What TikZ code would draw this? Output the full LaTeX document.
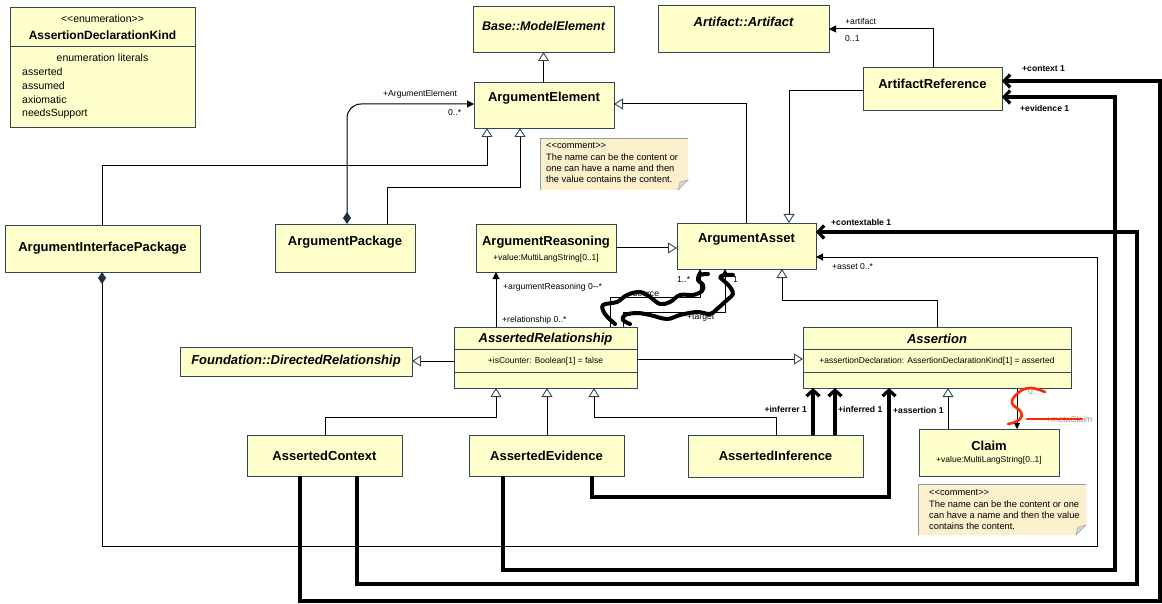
\documentclass[tikz,border=0pt]{standalone}
\usepackage{fontspec}
\setmainfont{Liberation Sans}
\usetikzlibrary{arrows.meta}
\definecolor{boxfill}{HTML}{FFFFCC}
\definecolor{boxdraw}{HTML}{2F4858}
\definecolor{cmtfill}{HTML}{FCEFCC}
\definecolor{cmtline}{HTML}{8C9BAB}
\definecolor{dmd}{HTML}{1E3442}
\definecolor{redmark}{HTML}{FF2A00}
\begin{document}
\begin{tikzpicture}[x=1pt,y=-1pt,
  cls/.style={draw=boxdraw, fill=boxfill, line width=0.9pt, inner sep=0pt, outer sep=0pt, anchor=north west},
  divline/.style={draw=boxdraw, line width=0.9pt},
  ttl/.style={font=\fontsize{13}{15}\selectfont\bfseries, inner sep=0pt},
  ittl/.style={font=\fontsize{13}{15}\selectfont\bfseries\itshape, inner sep=0pt},
  attr/.style={font=\fontsize{8.5}{10}\selectfont, inner sep=0pt},
  lbl/.style={font=\fontsize{8.6}{10}\selectfont, inner sep=0pt, anchor=west},
  blbl/.style={font=\fontsize{8.6}{10}\selectfont\bfseries, inner sep=0pt, anchor=west},
  cmt/.style={font=\fontsize{9.3}{11}\selectfont, inner sep=0pt, anchor=west},
  enumtxt/.style={font=\fontsize{10.5}{12}\selectfont, inner sep=0pt},
  gen/.style={line width=1pt, -{Triangle[length=9pt,width=11pt,color=boxdraw,fill=white,line width=0.9pt]}},
  assoc/.style={line width=1pt, -{Triangle[length=7pt,width=7pt]}},
  smallassoc/.style={line width=1pt, -{Triangle[length=6pt,width=6pt]}},
  compo/.style={line width=1pt, {Diamond[length=12pt,width=8pt,color=dmd]}-{Triangle[length=7pt,width=7pt]}},
  thk/.style={line width=3.2pt, -{Straight Barb[length=6pt,width=13pt]}},
  wave/.style={line width=4pt, line cap=round, line join=round},
  redwave/.style={draw=redmark, line width=2.6pt, line cap=round, line join=round}
]
\useasboundingbox (0,0) rectangle (1162,604);
\fill[white] (0,0) rectangle (1162,604);

% ---------- classes ----------
\node[cls, minimum width=185, minimum height=120] (enum) at (10,7) {};
\node[cls, minimum width=141, minimum height=46] (base) at (473,6) {};
\node[cls, minimum width=140, minimum height=46] (ae) at (474,82) {};
\node[cls, minimum width=171, minimum height=47] (art) at (658,5) {};
\node[cls, minimum width=139, minimum height=43] (aref) at (863,67) {};
\node[cls, minimum width=195, minimum height=47] (aip) at (5,225) {};
\node[cls, minimum width=140, minimum height=48] (ap) at (275,224) {};
\node[cls, minimum width=140, minimum height=48] (ar) at (476,224) {};
\node[cls, minimum width=139, minimum height=46] (aa) at (677,223) {};
\node[cls, minimum width=183, minimum height=61] (arel) at (454,327) {};
\node[cls, minimum width=232, minimum height=29] (fdr) at (180,347) {};
\node[cls, minimum width=268, minimum height=61] (asn) at (803,327) {};
\node[cls, minimum width=155, minimum height=41] (actx) at (247,435) {};
\node[cls, minimum width=155, minimum height=41] (aev) at (469,435) {};
\node[cls, minimum width=175, minimum height=42] (ainf) at (688,435) {};
\node[cls, minimum width=140, minimum height=47] (claim) at (919,429) {};

% compartments
\draw[divline] (enum.west |- 0,46) -- (enum.east |- 0,46);
\draw[divline] (arel.west |- 0,349) -- (arel.east |- 0,349);
\draw[divline] (arel.west |- 0,372) -- (arel.east |- 0,372);
\draw[divline] (asn.west |- 0,349) -- (asn.east |- 0,349);
\draw[divline] (asn.west |- 0,372) -- (asn.east |- 0,372);

% class texts
\node[enumtxt] (enumst) at (102.5,19) {<{}<enumeration>{}>};
\node[font=\fontsize{12}{14}\selectfont\bfseries, inner sep=0pt] (enumnm) at (102.5,35) {AssertionDeclarationKind};
\node[enumtxt] (enumlit) at (102.5,58) {enumeration literals};
\node[enumtxt, anchor=west] (lit1) at (22,72) {asserted};
\node[enumtxt, anchor=west] (lit2) at (22,86) {assumed};
\node[enumtxt, anchor=west] (lit3) at (22,100) {axiomatic};
\node[enumtxt, anchor=west] (lit4) at (22,114) {needsSupport};

\node[ittl, font=\fontsize{12.5}{15}\selectfont\bfseries\itshape] (tbase) at (543.5,26) {Base::ModelElement};
\node[ttl] (tae) at (544,98) {ArgumentElement};
\node[ittl] (tart) at (743.5,22) {Artifact::Artifact};
\node[ttl] (taref) at (932.5,84) {ArtifactReference};
\node[ttl] (taip) at (102.5,248) {ArgumentInterfacePackage};
\node[ttl] (tap) at (345,242) {ArgumentPackage};
\node[ttl] (tar) at (546,242) {ArgumentReasoning};
\node[attr] (tarv) at (546,258) {+value:MultiLangString[0..1]};
\node[ttl] (taa) at (746.5,239) {ArgumentAsset};
\node[ittl] (tarel) at (545.5,339) {AssertedRelationship};
\node[attr] (tarelv) at (545.5,361) {+isCounter: Boolean[1] = false};
\node[ittl] (tfdr) at (296,361) {Foundation::DirectedRelationship};
\node[ittl] (tasn) at (937,339) {Assertion};
\node[attr] (tasnv) at (937,361) {+assertionDeclaration: AssertionDeclarationKind[1] = asserted};
\node[ttl] (tactx) at (324.5,456) {AssertedContext};
\node[ttl] (taev) at (546.5,456) {AssertedEvidence};
\node[ttl] (tainf) at (775.5,456) {AssertedInference};
\node[ttl] (tclaim) at (989,446) {Claim};
\node[attr] (tclaimv) at (989,460) {+value:MultiLangString[0..1]};

% ---------- comments ----------
\fill[cmtfill] (540,138) -- (688,138) -- (688,180) -- (678,190) -- (540,190) -- cycle;
\draw[cmtline, line width=0.7pt] (540,190) -- (540,138) -- (688,138);
\filldraw[fill=gray!30, draw=gray!75, line width=0.5pt] (688,180) -- (678,190) -- (680,182) -- cycle;
\node[cmt] (c1a) at (546,146) {<{}<comment>{}>};
\node[cmt] (c1b) at (546,157) {The name can be the content or};
\node[cmt] (c1c) at (546,168) {one can have a name and then};
\node[cmt] (c1d) at (546,179) {the value contains the content.};

\fill[cmtfill] (918,484) -- (1086,484) -- (1086,525) -- (1076,535) -- (918,535) -- cycle;
\draw[cmtline, line width=0.7pt] (918,535) -- (918,484) -- (1086,484);
\filldraw[fill=gray!30, draw=gray!75, line width=0.5pt] (1086,525) -- (1076,535) -- (1078,527) -- cycle;
\node[cmt] (c2a) at (929,493) {<{}<comment>{}>};
\node[cmt] (c2b) at (929,504) {The name can be the content or one};
\node[cmt] (c2c) at (929,515) {can have a name and then the value};
\node[cmt] (c2d) at (929,526) {contains the content.};

% ---------- thin connectors ----------
\draw[gen] (ae.north -| 543.5,0) -- (base.south -| 543.5,0);
\draw[gen] (aip.north -| 102,0) |- (487,166) -- (ae.south -| 487,0);
\draw[gen] (ap.north -| 387,0) |- (520,188) -- (ae.south -| 520,0);
\draw[compo, rounded corners=14pt] (ap.north -| 347,0) |- (ae.west |- 0,104);
\draw[gen] (aa.north -| 746,0) |- (ae.east |- 0,104);
\draw[gen] (aref.west |- 0,91) -| (aa.north -| 789,0);
\draw[assoc] (aref.north -| 933,0) |- (art.east |- 0,29);
\draw[gen] (ar.east |- 0,248) -- (aa.west |- 0,248);
\draw[assoc] (arel.north -| 496,0) -- (ar.south -| 496,0);
\draw[assoc] (arel.north -| 610,0) |- (700,297) -- (aa.south -| 700,0);
\draw[assoc] (arel.north -| 623,0) |- (725,312) -- (aa.south -| 725,0);
\draw[gen] (asn.north -| 937,0) |- (782,300) -- (aa.south -| 782,0);
\draw[gen] (arel.west |- 0,361) -- (fdr.east |- 0,361);
\draw[gen] (arel.east |- 0,359) -- (asn.west |- 0,359);
\draw[gen] (actx.north -| 325,0) |- (496,417) -- (arel.south -| 496,0);
\draw[gen] (aev.north -| 547,0) -- (arel.south -| 547,0);
\draw[gen] (ainf.north -| 776,0) |- (594,417) -- (arel.south -| 594,0);
\draw[gen] (claim.north -| 948,0) -- (asn.south -| 948,0);
\draw[smallassoc] (asn.south -| 1017,0) -- (claim.north -| 1017,0);
\draw[compo] (aip.south -| 102,0) |- (1097,546) |- (aa.east |- 0,257);

% ---------- thick connectors ----------
\draw[thk] (actx.south -| 300,0) |- (1160,601) |- (aref.east |- 0,81);
\draw[thk] (actx.south -| 357,0) |- (1137,584) |- (aa.east |- 0,232);
\draw[thk] (aev.south -| 503,0) |- (1115,570) |- (aref.east |- 0,97);
\draw[thk] (aev.south -| 592,0) |- (889,497) -- (asn.south -| 889,0);
\draw[thk] (ainf.north -| 813,0) -- (asn.south -| 813,0);
\draw[thk] (ainf.north -| 835,0) -- (asn.south -| 835,0);

% ---------- labels ----------
\node[lbl] (l1) at (383,94) {+ArgumentElement};
\node[lbl] (l2) at (448,113) {0..*};
\node[lbl] (l3) at (845,21) {+artifact};
\node[lbl] (l4) at (845,39) {0..1};
\node[blbl] (l5) at (1022,69) {+context 1};
\node[blbl] (l6) at (1020,108) {+evidence 1};
\node[blbl] (l7) at (831,222) {+contextable 1};
\node[lbl] (l8) at (832,267) {+asset 0..*};
\node[lbl] (l9) at (503,287) {+argumentReasoning 0-{}-*};
\node[lbl] (l10) at (502,320) {+relationship 0..*};
\node[lbl] (l11) at (677,280) {1..*};
\node[lbl] (l12) at (733,280) {1};
\node[lbl] (l13) at (628,294) {+source};
\node[lbl] (l14) at (687,318) {+target};
\node[blbl, anchor=east] (l15) at (807,409) {+inferrer 1};
\node[blbl] (l16) at (838,409) {+inferred 1};
\node[blbl] (l17) at (893,410) {+assertion 1};
\node[lbl, text=gray!80] (l18) at (1028,392) {0..*};
\node[lbl, text=gray!80] (l19) at (1046,419) {+metaClaim};

% ---------- scribbles ----------
\draw[wave] plot[smooth, tension=0.6] coordinates {(615,324) (605,314) (603,305) (617,302) (627,295) (640,292) (650,297) (660,304) (670,302) (680,295) (693,295) (702,291) (703,285) (698,280) (700,275) (708,274)};
\draw[wave] plot[smooth, tension=0.6] coordinates {(630,324) (623,320) (625,315) (637,313) (650,315) (667,319) (680,315) (697,312) (710,314) (717,309) (727,300) (733,294) (730,287) (723,280) (720,277) (725,275) (733,275)};
\draw[redwave] plot[smooth, tension=0.7] coordinates {(1045,392) (1030,388) (1018,393) (1012,403) (1021,412) (1019,420) (1008,424)};
\draw[redwave] (1027,419) -- (1082,419);
\end{tikzpicture}
\end{document}
